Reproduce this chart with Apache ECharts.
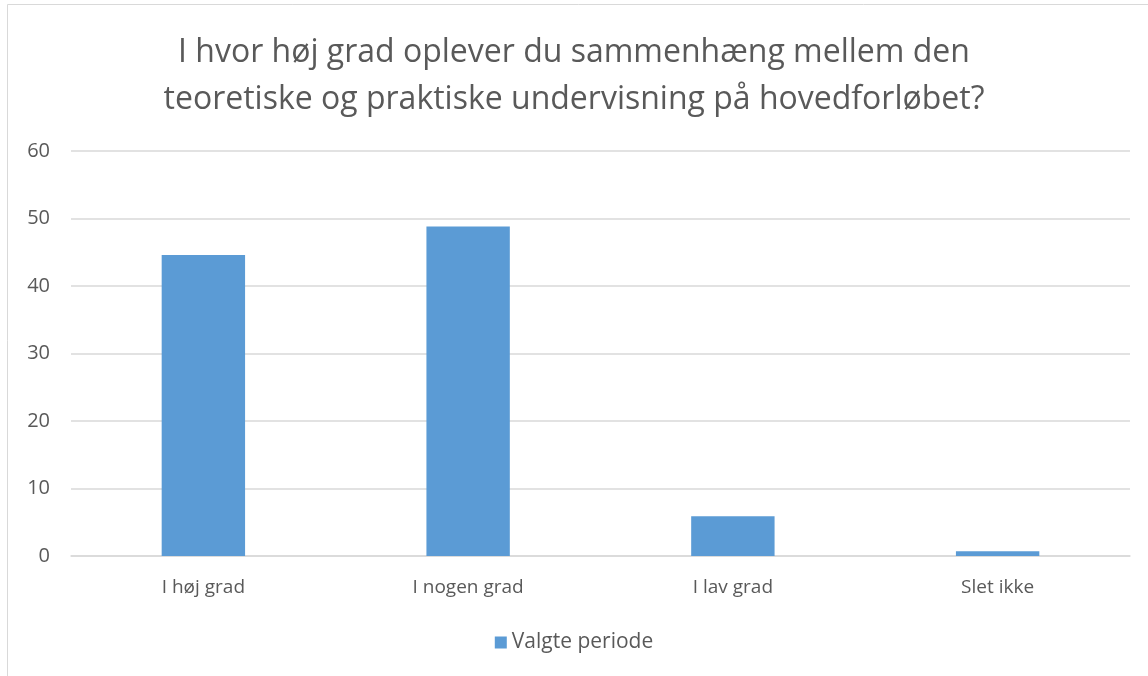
<!DOCTYPE html>
<html>
<head>
<meta charset="utf-8">
<script src="https://cdn.jsdelivr.net/npm/echarts@6/dist/echarts.min.js"></script>
<style>
  html, body { margin: 0; padding: 0; background: #fff; }
  #main { width: 1148px; height: 676px; }
</style>
</head>
<body>
<div id="main"></div>
<script>
// data
var categories = ['I høj grad', 'I nogen grad', 'I lav grad', 'Slet ikke'];
var values = [44.6, 48.8, 5.9, 0.7];
var seriesName = 'Valgte periode';
var titleText = 'I hvor høj grad oplever du sammenhæng mellem den\nteoretiske og praktiske undervisning på hovedforløbet?';

var dom = document.getElementById('main');
var myChart = echarts.init(dom, null, { renderer: 'canvas' });

var font = '"Open Sans", "Noto Sans", sans-serif';
var textColor = '#595959';

var option = {
    animation: false,
    backgroundColor: '#fff',
    textStyle: { fontFamily: font },
    graphic: [
        {
            type: 'rect',
            shape: { x: 7.5, y: 4.5, width: 1160, height: 700 },
            style: { fill: 'none', stroke: '#d9d9d9', lineWidth: 1 },
            silent: true
        }
    ],
    title: {
        text: titleText,
        left: 'center',
        top: 24,
        textStyle: {
            fontFamily: font,
            fontSize: 32,
            fontWeight: 'normal',
            color: textColor,
            lineHeight: 47
        }
    },
    legend: {
        bottom: 18,
        left: 'center',
        itemWidth: 12,
        itemHeight: 12,
        icon: 'rect',
        itemGap: 8,
        itemStyle: { borderWidth: 0 },
        textStyle: { fontFamily: font, fontSize: 21, color: textColor },
        data: [seriesName]
    },
    grid: {
        left: 71,
        right: 18,
        top: 151,
        bottom: 120,
        containLabel: false
    },
    xAxis: {
        type: 'category',
        data: categories,
        axisLine: { show: true, lineStyle: { color: '#d9d9d9', width: 1.5 } },
        axisTick: { show: false },
        axisLabel: { color: textColor, fontSize: 19, margin: 22, fontFamily: font }
    },
    yAxis: {
        type: 'value',
        min: 0,
        max: 60,
        interval: 10,
        axisLine: { show: false },
        axisTick: { show: false },
        axisLabel: { color: textColor, fontSize: 20, margin: 21, fontFamily: font },
        splitLine: { lineStyle: { color: '#d9d9d9', width: 1.5 } }
    },
    series: [
        {
            name: seriesName,
            type: 'bar',
            data: values,
            barWidth: '31.5%',
            itemStyle: { color: '#5b9bd5' }
        }
    ]
};

myChart.setOption(option);
window.addEventListener('resize', myChart.resize);
</script>
</body>
</html>
